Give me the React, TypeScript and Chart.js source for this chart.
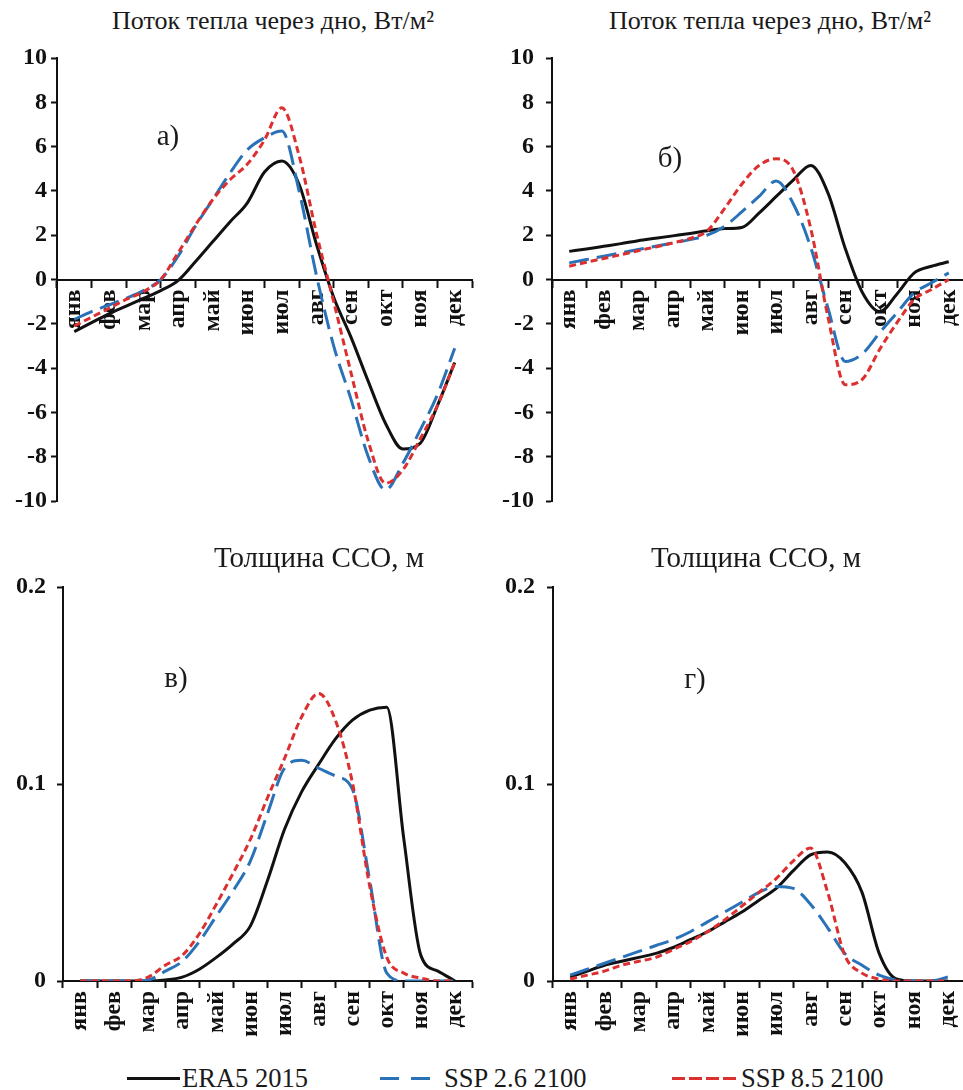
import React, { useEffect, useRef } from 'react';
import { Chart, registerables } from 'chart.js';

Chart.register(...registerables);

// ---------- data ----------
const MONTHS = ['янв', 'фев', 'мар', 'апр', 'май', 'июн', 'июл', 'авг', 'сен', 'окт', 'ноя', 'дек'];
// sample positions (month index, half-month steps)
const STEPS = [0, 0.5, 1, 1.5, 2, 2.5, 3, 3.5, 4, 4.5, 5, 5.5, 6, 6.5, 7, 7.5, 8, 8.5, 9, 9.5, 10, 10.5, 11];

// а) heat flux through the bottom, W/m2
const A_ERA5 = [-2.35, -1.95, -1.55, -1.2, -0.85, -0.5, -0.05, 0.8, 1.7, 2.6, 3.45, 4.85, 5.35, 4.3, 1.6, -0.8, -2.6, -4.6, -6.5, -7.65, -7.4, -5.7, -3.75];
const A_SSP26 = [-1.8, -1.45, -1.15, -0.85, -0.5, 0.0, 1.05, 2.4, 3.6, 4.8, 5.85, 6.4, 6.7, 4.0, 0.2, -3.0, -5.4, -8.0, -9.5, -8.3, -6.8, -5.2, -3.1];
const A_SSP85 = [-2.1, -1.7, -1.3, -0.9, -0.55, 0.0, 1.2, 2.45, 3.6, 4.5, 5.2, 6.3, 7.75, 5.6, 2.1, -1.0, -4.2, -7.3, -9.2, -8.6, -7.2, -5.7, -3.75];

// б) heat flux through the bottom, W/m2
const B_ERA5 = [1.27, 1.38, 1.5, 1.62, 1.75, 1.86, 1.97, 2.08, 2.2, 2.3, 2.35, 3.0, 3.75, 4.5, 5.15, 3.9, 1.4, -0.6, -1.45, -0.65, 0.3, 0.6, 0.8];
const B_SSP26 = [0.75, 0.9, 1.05, 1.2, 1.35, 1.5, 1.65, 1.8, 2.0, 2.4, 3.05, 3.75, 4.45, 3.4, 1.45, -1.3, -3.7, -3.35, -2.4, -1.5, -0.6, -0.15, 0.3];
const B_SSP85 = [0.6, 0.78, 0.95, 1.12, 1.3, 1.47, 1.65, 1.85, 2.2, 3.2, 4.3, 5.15, 5.45, 4.9, 2.3, -1.7, -4.75, -4.5, -3.15, -1.95, -0.9, -0.45, 0.0];

// в) active layer thickness, m
const C_ERA5 = [0, 0, 0, 0, 0, 0.0005, 0.002, 0.006, 0.012, 0.019, 0.028, 0.051, 0.077, 0.096, 0.11, 0.123, 0.1325, 0.1375, 0.139, 0.072, 0.013, 0.005, 0];
const C_SSP26 = [0, 0, 0, 0, 0.0005, 0.005, 0.01, 0.02, 0.033, 0.046, 0.061, 0.085, 0.108, 0.112, 0.108, 0.104, 0.097, 0.051, 0.004, 0, 0, 0, 0];
const C_SSP85 = [0, 0, 0, 0, 0.002, 0.008, 0.013, 0.024, 0.039, 0.055, 0.072, 0.093, 0.113, 0.134, 0.146, 0.132, 0.1, 0.048, 0.012, 0.004, 0.0015, 0, 0];

// г) active layer thickness, m
const D_ERA5 = [0.002, 0.005, 0.008, 0.01, 0.012, 0.014, 0.017, 0.021, 0.025, 0.03, 0.035, 0.041, 0.047, 0.056, 0.064, 0.0655, 0.06, 0.045, 0.014, 0.001, 0, 0, 0];
const D_SSP26 = [0.003, 0.006, 0.009, 0.012, 0.015, 0.018, 0.021, 0.025, 0.03, 0.035, 0.04, 0.045, 0.048, 0.047, 0.039, 0.027, 0.014, 0.008, 0.003, 0.0005, 0, 0, 0.002];
const D_SSP85 = [0.001, 0.003, 0.005, 0.008, 0.01, 0.012, 0.016, 0.02, 0.025, 0.031, 0.038, 0.045, 0.052, 0.061, 0.0675, 0.045, 0.013, 0.004, 0.001, 0, 0, 0, 0];

const SERIES_NAMES = ['ERA5 2015', 'SSP 2.6 2100', 'SSP 8.5 2100'];
const FLUX_TITLE = 'Поток тепла через дно, Вт/м²';
const THICK_TITLE = 'Толщина ССО, м';

// ---------- styles ----------
const FONT = "'Liberation Serif', 'Times New Roman', serif";
const BLACK = '#111111';
const BLUE = '#2a72b8';
const RED = '#dc2f2f';
const TICK_FONT = { family: FONT, size: 24, weight: 'bold' as const };

type PanelSpec = {
  era5: number[];
  ssp26: number[];
  ssp85: number[];
  yMin: number;
  yMax: number;
  yStep: number;
  xAtZero: boolean;
  yWidth: number;
  yPad: number;
  padRight: number;
  padTop: number;
  padBottom: number;
  xHeight: number;
};

function buildConfig(p: PanelSpec): any {
  const mk = (vals: number[], color: string, dash: number[], order: number, label: string) => ({
    label,
    data: STEPS.map((x, i) => ({ x, y: vals[i] })),
    borderColor: color,
    backgroundColor: color,
    borderWidth: 3,
    borderDash: dash,
    borderCapStyle: 'butt',
    pointRadius: 0,
    pointHoverRadius: 0,
    cubicInterpolationMode: 'monotone',
    fill: false,
    xAxisID: 'xl',
    yAxisID: 'y',
    order,
  });
  return {
    type: 'line',
    data: {
      labels: MONTHS,
      datasets: [
        mk(p.ssp85, RED, [7, 4], 0, SERIES_NAMES[2]),
        mk(p.ssp26, BLUE, [20, 8], 1, SERIES_NAMES[1]),
        mk(p.era5, BLACK, [], 2, SERIES_NAMES[0]),
      ],
    },
    options: {
      responsive: false,
      animation: false,
      devicePixelRatio: 1,
      events: [],
      layout: { padding: { left: 0, right: p.padRight, top: p.padTop, bottom: p.padBottom } },
      plugins: { legend: { display: false }, tooltip: { enabled: false }, title: { display: false } },
      scales: {
        x: {
          type: 'category',
          axis: 'x',
          labels: MONTHS,
          offset: true,
          position: p.xAtZero ? { y: 0 } : 'bottom',
          grid: {
            display: true,
            drawOnChartArea: false,
            drawTicks: true,
            tickLength: 7,
            tickWidth: 2,
            tickColor: BLACK,
            offset: true,
          },
          border: { display: true, color: BLACK, width: 2 },
          ticks: {
            autoSkip: false,
            maxRotation: 90,
            minRotation: 90,
            padding: 3,
            color: BLACK,
            font: TICK_FONT,
          },
          afterFit: (s: any) => {
            s.paddingLeft = 0;
            s.paddingRight = 0;
            if (!p.xAtZero) s.height = p.xHeight;
          },
        },
        xl: { type: 'linear', axis: 'x', display: false, min: -0.5, max: 11.5 },
        y: {
          type: 'linear',
          position: 'left',
          min: p.yMin,
          max: p.yMax,
          ticks: { stepSize: p.yStep, padding: p.yPad, color: BLACK, font: TICK_FONT },
          grid: {
            display: true,
            drawOnChartArea: false,
            drawTicks: true,
            tickLength: 6,
            tickWidth: 2,
            tickColor: BLACK,
          },
          border: { display: true, color: BLACK, width: 2 },
          afterFit: (s: any) => {
            s.width = p.yWidth;
            s.paddingTop = 0;
            s.paddingBottom = 0;
          },
        },
      },
    },
  };
}

function Panel(props: { left: number; top: number; width: number; height: number; spec: PanelSpec }) {
  const ref = useRef<HTMLCanvasElement>(null);
  useEffect(() => {
    if (!ref.current) return;
    const chart = new Chart(ref.current, buildConfig(props.spec));
    return () => chart.destroy();
  }, []);
  return (
    <canvas
      ref={ref}
      width={props.width}
      height={props.height}
      style={{ position: 'absolute', left: props.left, top: props.top, width: props.width, height: props.height }}
    />
  );
}

function Label(props: { x: number; y: number; size: number; text: string; anchor?: 'center' | 'left' }) {
  const center = props.anchor !== 'left';
  return (
    <div
      style={{
        position: 'absolute',
        left: props.x,
        top: props.y,
        transform: center ? 'translate(-50%, -50%)' : 'translate(0, -50%)',
        fontFamily: FONT,
        fontSize: props.size,
        lineHeight: 1,
        whiteSpace: 'nowrap',
        color: '#1a1a1a',
      }}
    >
      {props.text}
    </div>
  );
}

function Seg(props: { x: number; w: number; color: string }) {
  return (
    <div style={{ position: 'absolute', left: props.x, top: 1077, width: props.w, height: 3, background: props.color }} />
  );
}

const PANEL_A: PanelSpec = {
  era5: A_ERA5, ssp26: A_SSP26, ssp85: A_SSP85,
  yMin: -10, yMax: 10, yStep: 2, xAtZero: true,
  yWidth: 57, yPad: 4, padRight: 8, padTop: 18, padBottom: 19, xHeight: 0,
};
const PANEL_B: PanelSpec = {
  era5: B_ERA5, ssp26: B_SSP26, ssp85: B_SSP85,
  yMin: -10, yMax: 10, yStep: 2, xAtZero: true,
  yWidth: 72, yPad: 12, padRight: 4, padTop: 18, padBottom: 19, xHeight: 0,
};
const PANEL_C: PanelSpec = {
  era5: C_ERA5, ssp26: C_SSP26, ssp85: C_SSP85,
  yMin: 0, yMax: 0.2, yStep: 0.1, xAtZero: false,
  yWidth: 63, yPad: 11, padRight: 8, padTop: 27, padBottom: 0, xHeight: 79,
};
const PANEL_D: PanelSpec = {
  era5: D_ERA5, ssp26: D_SSP26, ssp85: D_SSP85,
  yMin: 0, yMax: 0.2, yStep: 0.1, xAtZero: false,
  yWidth: 73, yPad: 12, padRight: 5, padTop: 27, padBottom: 0, xHeight: 79,
};

export default function App() {
  return (
    <div
      style={{
        position: 'absolute',
        left: 0,
        top: 0,
        width: 963,
        height: 1090,
        overflow: 'hidden',
        background: '#ffffff',
      }}
    >
      <Panel left={0} top={40} width={480} height={480} spec={PANEL_A} />
      <Panel left={480} top={40} width={490} height={480} spec={PANEL_B} />
      <Panel left={0} top={560} width={480} height={500} spec={PANEL_C} />
      <Panel left={480} top={560} width={490} height={500} spec={PANEL_D} />

      <Label x={273} y={21} size={26} text={FLUX_TITLE} />
      <Label x={770} y={21} size={26} text={FLUX_TITLE} />
      <Label x={319} y={557} size={29} text={THICK_TITLE} />
      <Label x={756} y={557} size={29} text={THICK_TITLE} />

      <Label x={168} y={135} size={29} text="а)" />
      <Label x={670} y={157} size={29} text="б)" />
      <Label x={176} y={677} size={29} text="в)" />
      <Label x={695} y={678} size={29} text="г)" />

      <Seg x={127} w={53} color={BLACK} />
      <Label x={182} y={1078} size={26.5} text={SERIES_NAMES[0]} anchor="left" />
      <Seg x={380} w={19} color={BLUE} />
      <Seg x={411} w={19} color={BLUE} />
      <Label x={444} y={1078} size={26.5} text={SERIES_NAMES[1]} anchor="left" />
      <Seg x={672} w={13} color={RED} />
      <Seg x={689} w={13} color={RED} />
      <Seg x={706} w={13} color={RED} />
      <Seg x={723} w={13} color={RED} />
      <Label x={741} y={1078} size={26.5} text={SERIES_NAMES[2]} anchor="left" />
    </div>
  );
}
